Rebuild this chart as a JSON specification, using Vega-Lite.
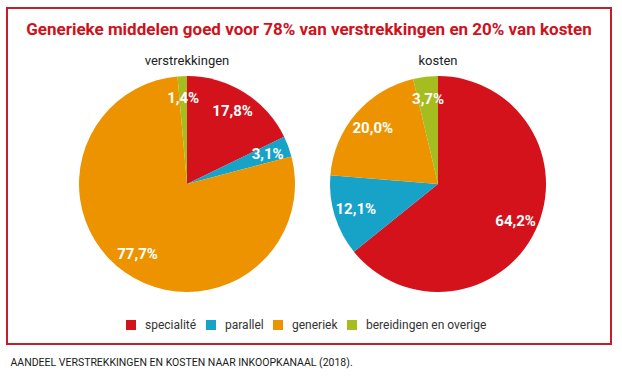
{
  "$schema": "https://vega.github.io/schema/vega-lite/v6.json",
  "width": 604,
  "height": 336,
  "autosize": "none",
  "padding": {"left": 7, "top": 8, "right": 11, "bottom": 35},
  "background": "white",
  "config": {
    "view": {"stroke": "#c41e2a", "strokeWidth": 2},
    "locale": {"number": {"decimal": ",", "thousands": ".", "grouping": [3], "currency": ["€", ""]}},
    "font": "Roboto"
  },
  "title": {
    "text": "Generieke middelen goed voor 78% van verstrekkingen en 20% van kosten",
    "color": "#d0111b",
    "fontSize": 17,
    "fontWeight": "bold",
    "font": "Roboto",
    "anchor": "middle",
    "frame": "group",
    "offset": -31
  },
  "data": {
    "values": [
      {"chart": "verstrekkingen", "kanaal": "specialité", "nr": 1, "aandeel": 0.178},
      {"chart": "verstrekkingen", "kanaal": "parallel", "nr": 2, "aandeel": 0.031},
      {"chart": "verstrekkingen", "kanaal": "generiek", "nr": 3, "aandeel": 0.777},
      {"chart": "verstrekkingen", "kanaal": "bereidingen en overige", "nr": 4, "aandeel": 0.014},
      {"chart": "kosten", "kanaal": "specialité", "nr": 1, "aandeel": 0.642},
      {"chart": "kosten", "kanaal": "parallel", "nr": 2, "aandeel": 0.121},
      {"chart": "kosten", "kanaal": "generiek", "nr": 3, "aandeel": 0.200},
      {"chart": "kosten", "kanaal": "bereidingen en overige", "nr": 4, "aandeel": 0.037}
    ]
  },
  "transform": [
    {"stack": "aandeel", "groupby": ["chart"], "sort": [{"field": "nr", "order": "ascending"}], "as": ["t0", "t1"], "offset": "normalize"},
    {"calculate": "(datum.t0 + datum.t1) / 2", "as": "tmid"}
  ],
  "encoding": {
    "x": {
      "field": "chart",
      "type": "nominal",
      "scale": {"type": "point", "domain": ["verstrekkingen", "kosten"], "range": [180, 431], "padding": 0},
      "axis": {
        "labels": false,
        "ticks": false,
        "domain": false,
        "grid": false,
        "title": "AANDEEL VERSTREKKINGEN EN KOSTEN NAAR INKOOPKANAAL (2018).",
        "titleFont": "Roboto",
        "titleFontSize": 10.5,
        "titleFontWeight": "normal",
        "titleColor": "#1a1a1a",
        "titleAnchor": "start",
        "titleAlign": "left",
        "titleBaseline": "middle",
        "titleX": 3,
        "titleY": 18
      }
    }
  },
  "layer": [
    {
      "mark": {"type": "arc", "outerRadius": 108, "yOffset": 8, "stroke": null},
      "encoding": {
        "theta": {"field": "t0", "type": "quantitative", "scale": {"domain": [0, 1]}, "stack": null},
        "theta2": {"field": "t1"},
        "color": {
          "field": "kanaal",
          "type": "nominal",
          "scale": {
            "domain": ["specialité", "parallel", "generiek", "bereidingen en overige"],
            "range": ["#d3121c", "#17a2c7", "#ee9300", "#a5bd1e"]
          },
          "legend": {
            "title": null,
            "orient": "none",
            "legendX": 118,
            "legendY": 311,
            "direction": "horizontal",
            "symbolType": "square",
            "symbolSize": 100,
            "symbolStrokeWidth": 0,
            "symbolOpacity": 1,
            "labelFont": "Roboto",
            "labelFontSize": 12,
            "labelColor": "#333333",
            "labelOffset": 8,
            "columnPadding": 8
          }
        }
      }
    },
    {
      "mark": {"type": "text", "radius": 86, "yOffset": 8, "color": "white", "fontWeight": "bold", "fontSize": 15, "font": "Roboto"},
      "encoding": {
        "theta": {"field": "tmid", "type": "quantitative", "scale": {"domain": [0, 1]}, "stack": null},
        "text": {"field": "aandeel", "type": "quantitative", "format": ".1%"}
      }
    },
    {
      "transform": [{"aggregate": [{"op": "count", "as": "n"}], "groupby": ["chart"]}],
      "mark": {"type": "text", "dy": -123, "yOffset": 8, "fontSize": 13, "color": "#222222", "font": "Roboto"},
      "encoding": {
        "text": {"field": "chart", "type": "nominal"}
      }
    }
  ]
}
